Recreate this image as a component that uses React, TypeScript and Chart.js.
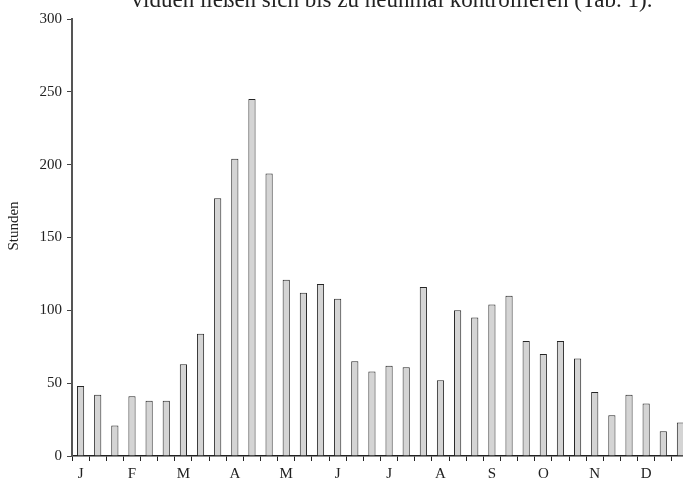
import React, { useEffect, useRef } from "react";
import { Chart, registerables } from "chart.js";

Chart.register(...registerables);

const months = ["J", "F", "M", "A", "M", "J", "J", "A", "S", "O", "N", "D"];
const hours = [
  48, 42, 21, 41, 38, 38, 63, 84, 177, 204, 245, 194,
  121, 112, 118, 108, 65, 58, 62, 61, 116, 52, 100, 95,
  104, 110, 79, 70, 79, 67, 44, 28, 42, 36, 17, 23,
];
const yTicks = [0, 50, 100, 150, 200, 250, 300];
const topText = "viduen ließen sich bis zu neunmal kontrollieren (Tab. 1).";
const yTitle = "Stunden";

const categories: string[] = [];
months.forEach((m) => {
  categories.push(m, "", "");
});

const SERIF = '"Liberation Serif", "DejaVu Serif", serif';

export default function App() {
  const ref = useRef<HTMLCanvasElement | null>(null);

  useEffect(() => {
    const canvas = ref.current;
    if (!canvas) return;
    const textPlugin = {
      id: "extraText",
      afterDraw(chart: any) {
        const ctx = chart.ctx;
        ctx.save();
        ctx.font = "23px " + SERIF;
        ctx.fillStyle = "#222";
        ctx.textAlign = "center";
        ctx.textBaseline = "alphabetic";
        ctx.fillText(topText, 392, 7);
        ctx.restore();

        ctx.save();
        ctx.font = "15px " + SERIF;
        ctx.fillStyle = "#222";
        ctx.textAlign = "center";
        ctx.textBaseline = "middle";
        ctx.translate(14, 226);
        ctx.rotate(-Math.PI / 2);
        ctx.fillText(yTitle, 0, 0);
        ctx.restore();
      },
    };
    const chart = new Chart(canvas, {
      type: "bar",
      data: {
        labels: categories,
        datasets: [
          {
            data: hours,
            backgroundColor: "#d4d4d4",
            borderColor: "#262626",
            borderWidth: 1,
            borderSkipped: "bottom",
            categoryPercentage: 1,
            barPercentage: 0.42,
          },
        ],
      },
      options: {
        responsive: false,
        animation: false,
        devicePixelRatio: 1,
        layout: { padding: { left: 0, right: 1, top: 19, bottom: 0 } },
        plugins: {
          legend: { display: false },
          tooltip: { enabled: false },
          title: { display: false },
        },
        scales: {
          x: {
            type: "category",
            offset: true,
            grid: {
              offset: true,
              drawOnChartArea: false,
              drawTicks: true,
              tickLength: 5,
              color: "#222",
              lineWidth: 1,
            },
            border: { display: true, color: "#222", width: 1.5 },
            ticks: {
              autoSkip: false,
              maxRotation: 0,
              minRotation: 0,
              padding: 4,
              color: "#222",
              font: { family: SERIF, size: 15 },
            },
            afterFit(scale: any) {
              scale.height = 26;
            },
          },
          y: {
            min: 0,
            max: 300,
            afterBuildTicks(scale: any) {
              scale.ticks = yTicks.map((v) => ({ value: v }));
            },
            grid: {
              drawOnChartArea: false,
              drawTicks: true,
              tickLength: 5,
              color: "#444",
              lineWidth: 1,
            },
            border: { display: true, color: "#555", width: 2 },
            ticks: {
              padding: 5,
              color: "#222",
              font: { family: SERIF, size: 15 },
            },
            title: { display: false },
            afterFit(scale: any) {
              scale.width = 72;
            },
          },
        },
      },
      plugins: [textPlugin],
    });
    return () => chart.destroy();
  }, []);

  return (
    <canvas
      ref={ref}
      width={690}
      height={482}
      style={{ position: "fixed", left: 0, top: 0, display: "block", width: 690, height: 482 }}
    />
  );
}
